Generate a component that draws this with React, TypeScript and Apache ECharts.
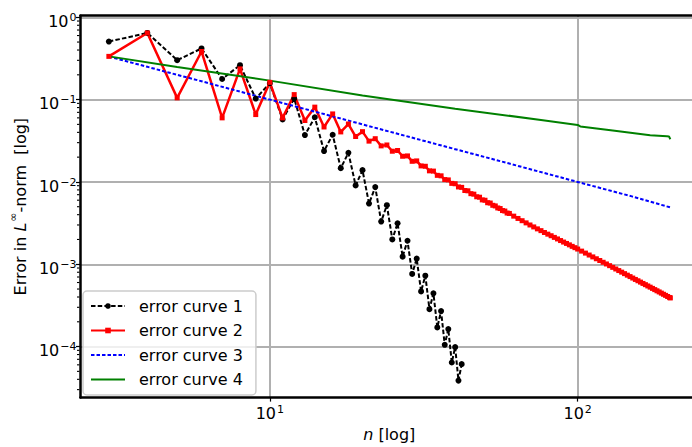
import React, { useEffect, useRef } from 'react';
import * as echarts from 'echarts';

// ---------- data ----------
const seriesNames = ['error curve 1', 'error curve 2', 'error curve 3', 'error curve 4'];

const blackN = [3, 4, 5, 6, 7, 8, 9, 10, 11, 12, 13, 14, 15, 16, 17, 18, 19, 20, 21, 22,
  23, 24, 25, 26, 27, 28, 29, 30, 31, 32, 33, 34, 35, 36, 37, 38, 39, 40, 41, 42];
const blackV = [0.507, 0.645, 0.301, 0.418, 0.178, 0.262, 0.103, 0.158, 0.0575, 0.103,
  0.0371, 0.061, 0.0237, 0.0374, 0.0147, 0.0226, 0.00906, 0.0139, 0.00546, 0.00865,
  0.0033, 0.00522, 0.002, 0.00315, 0.001236, 0.00193, 0.000762, 0.00117, 0.000468, 0.000726,
  0.000285, 0.000443, 0.000171, 0.00027, 0.000105, 0.000163, 6.41e-5, 9.84e-5, 3.86e-5, 6.12e-5];

const redN = [3, 4, 5, 6, 7, 8, 9, 10, 11, 12, 13, 14, 15, 16, 17, 18, 19, 20,
  21, 22, 23, 24, 25, 26, 27, 28, 29, 30, 31, 32, 33, 34, 35, 36, 37, 38, 39, 40,
  41, 42, 43, 44, 45, 46, 47, 48, 49, 50, 51, 52, 53, 54, 55, 56, 57, 58, 59, 60,
  62, 64, 66, 68, 70, 72, 74, 76, 78, 80, 82, 84, 86, 88, 90, 92, 94, 96, 98, 100,
  103, 106, 109, 112, 115, 118, 121, 124, 127, 130, 133, 136, 139, 142, 145, 148, 151,
  154, 157, 160, 163, 166, 169, 172, 175, 178, 181, 184, 187, 190, 193, 196, 199, 200];
const redV = [0.335, 0.645, 0.105, 0.384, 0.06, 0.236, 0.0658, 0.162, 0.06, 0.115,
  0.0557, 0.081, 0.0465, 0.067, 0.0405, 0.0505, 0.0356, 0.0408,
  0.0313, 0.0335, 0.0274, 0.0281, 0.0236, 0.0241, 0.0205, 0.0207, 0.0178, 0.018,
  0.01565, 0.01549, 0.01363, 0.01354, 0.01202, 0.01186, 0.01068, 0.01058, 0.0096, 0.0095,
  0.00869, 0.00859, 0.00787, 0.0078, 0.0072, 0.0071, 0.0066, 0.00652, 0.00605, 0.00599,
  0.00559, 0.00554, 0.0052, 0.00511, 0.00483, 0.00475, 0.00449, 0.00443, 0.00419, 0.00414,
  0.00384, 0.0036, 0.00338, 0.00318, 0.003, 0.00284, 0.00269, 0.00256, 0.00243, 0.00232,
  0.00222, 0.00212, 0.00203, 0.00194, 0.00186, 0.00179, 0.00172, 0.00165, 0.00159, 0.00153,
  0.001444, 0.001366, 0.001294, 0.001228, 0.001166, 0.00111, 0.001057, 0.001008, 0.000961,
  0.000917, 0.000876, 0.000838, 0.000802, 0.000769, 0.000737, 0.000708, 0.00068,
  0.000654, 0.00063, 0.000607, 0.000585, 0.000565, 0.000545, 0.000527, 0.000509,
  0.000492, 0.000476, 0.000461, 0.000446, 0.000432, 0.000419, 0.000406, 0.000394, 0.00039];

const blueN = [3, 4, 5, 6, 8, 10, 15, 20, 30, 40, 60, 80, 100, 150, 200];
const blueV = [0.333, 0.25, 0.2, 0.167, 0.125, 0.1, 0.0667, 0.05, 0.0333, 0.025,
  0.0167, 0.0125, 0.01, 0.00667, 0.0049];

const greenN = [3, 5, 10, 20, 40, 76, 100, 102, 130, 172, 195, 198, 200];
const greenV = [0.335, 0.249, 0.17, 0.1125, 0.0775, 0.0566, 0.0493, 0.0472, 0.0421,
  0.0368, 0.0359, 0.0357, 0.033];

const xMajorTicks = [10, 100];
const yMajorTicks = [1e-4, 1e-3, 1e-2, 1e-1, 1];
const yMinorTicks = [3e-5, 4e-5, 5e-5, 6e-5, 7e-5, 8e-5, 9e-5,
  2e-4, 3e-4, 4e-4, 5e-4, 6e-4, 7e-4, 8e-4, 9e-4,
  2e-3, 3e-3, 4e-3, 5e-3, 6e-3, 7e-3, 8e-3, 9e-3,
  2e-2, 3e-2, 4e-2, 5e-2, 6e-2, 7e-2, 8e-2, 9e-2,
  0.2, 0.3, 0.4, 0.5, 0.6, 0.7, 0.8, 0.9];

const X_MIN = 2.426;
const X_MAX = 246;
const Y_MIN = 2.4e-5;
const Y_MAX = 1.045;

const FONT = 'DejaVu Sans';

const pairs = (xs: number[], ys: number[]) => xs.map((x, i) => [x, ys[i]]);

const expText = (v: number): string => {
  const l = Math.log10(v);
  const e = Math.round(l);
  if (Math.abs(l - e) > 1e-6) return '';
  return String(e).replace('-', '\u2212');
};

export default function App() {
  const ref = useRef<HTMLDivElement>(null);

  useEffect(() => {
    if (!ref.current) return;
    document.body.style.overflow = 'hidden';
    const chart = echarts.init(ref.current, undefined, { renderer: 'svg' });

    const option: any = {
      animation: false,
      textStyle: { fontFamily: FONT },
      grid: { left: 76, top: 15.7, width: 622, height: 388.3, containLabel: false },
      xAxis: [
        {
          type: 'log',
          logBase: 10,
          min: X_MIN,
          max: X_MAX,
          position: 'bottom',
          axisLine: { show: true, onZero: false, lineStyle: { color: '#000', width: 2.5 } },
          axisTick: { show: true, length: 4, customValues: xMajorTicks, lineStyle: { color: '#000', width: 1.2 } },
          axisLabel: {
            show: true,
            customValues: xMajorTicks,
            margin: 6,
            color: '#000',
            formatter: (v: number) => {
              const s = expText(v);
              return s ? `{b|10}{s|${s}}` : '';
            },
            rich: {
              b: { fontSize: 16, fontFamily: FONT, color: '#000', verticalAlign: 'top', padding: [1.5, 0, 0, 0] },
              s: { fontSize: 11, fontFamily: FONT, color: '#000', verticalAlign: 'top', padding: [0, 0, 0, 1] },
            },
          },
          splitLine: { show: true, lineStyle: { color: '#b0b0b0', width: 2 } },
          name: '{it|n}{t| [log]}',
          nameLocation: 'middle',
          nameGap: 26,
          nameTextStyle: {
            rich: {
              it: { fontSize: 16, fontFamily: FONT, fontStyle: 'italic', color: '#000' },
              t: { fontSize: 16, fontFamily: FONT, color: '#000' },
            },
          },
        },
        {
          type: 'log',
          logBase: 10,
          min: X_MIN,
          max: X_MAX,
          position: 'top',
          axisLine: { show: true, onZero: false, lineStyle: { color: '#000', width: 2.5 } },
          axisTick: { show: false },
          axisLabel: { show: false },
          splitLine: { show: false },
        },
      ],
      yAxis: {
        type: 'log',
        logBase: 10,
        min: Y_MIN,
        max: Y_MAX,
        axisLine: { show: true, onZero: false, lineStyle: { color: '#000', width: 2.5 } },
        axisTick: { show: true, length: 4.5, customValues: yMajorTicks, lineStyle: { color: '#000', width: 1.2 } },
        axisLabel: {
          show: true,
          customValues: yMajorTicks,
          margin: 4,
          color: '#000',
          formatter: (v: number) => {
            const s = expText(v);
            return s ? `{b|10}{s|${s}}` : '';
          },
          rich: {
            b: { fontSize: 16, fontFamily: FONT, color: '#000', verticalAlign: 'top', padding: [8.5, 0, 0, 0] },
            s: { fontSize: 11, fontFamily: FONT, color: '#000', verticalAlign: 'top', padding: [7, 0, 0, 1] },
          },
        },
        splitLine: { show: true, lineStyle: { color: '#b0b0b0', width: 2 } },
        name: '{t|Error in }{it|L}{s|\u221e}{t|-norm  [log]}',
        nameLocation: 'middle',
        nameGap: 52,
        nameTextStyle: {
          rich: {
            t: { fontSize: 16, fontFamily: FONT, color: '#000', verticalAlign: 'top', padding: [4, 0, 0, 0] },
            it: { fontSize: 16, fontFamily: FONT, fontStyle: 'italic', color: '#000', verticalAlign: 'top', padding: [4, 0, 0, 0] },
            s: { fontSize: 11, fontFamily: FONT, color: '#000', verticalAlign: 'top', padding: [0, 0, 0, 1] },
          },
        },
      },
      legend: {
        data: [
          { name: seriesNames[0] },
          { name: seriesNames[1] },
          { name: seriesNames[2], itemStyle: { opacity: 0 } },
          { name: seriesNames[3], itemStyle: { opacity: 0 } },
        ],
        orient: 'vertical',
        left: 83,
        top: 291,
        itemWidth: 34,
        itemHeight: 7,
        itemGap: 8.5,
        padding: [7, 13, 7.5, 7],
        backgroundColor: 'rgba(255,255,255,0.8)',
        borderColor: '#cccccc',
        borderWidth: 1.5,
        borderRadius: 4,
        selectedMode: false,
        textStyle: { fontFamily: FONT, fontSize: 16, color: '#000', padding: [0, 0, 0, 9] },
      },
      series: [
        {
          name: seriesNames[0],
          type: 'line',
          data: pairs(blackN, blackV),
          symbol: 'circle',
          symbolSize: 6,
          showSymbol: true,
          showAllSymbol: true,
          lineStyle: { color: '#000000', width: 2, type: [4.5, 2.2] },
          itemStyle: { color: '#000000' },
          emphasis: { disabled: true },
          z: 2,
        },
        {
          name: seriesNames[1],
          type: 'line',
          data: pairs(redN, redV),
          symbol: 'rect',
          symbolSize: 5,
          showSymbol: true,
          showAllSymbol: true,
          lineStyle: { color: '#ff0000', width: 2.5 },
          itemStyle: { color: '#ff0000' },
          emphasis: { disabled: true },
          z: 2,
        },
        {
          name: seriesNames[2],
          type: 'line',
          data: pairs(blueN, blueV),
          symbol: 'none',
          lineStyle: { color: '#0000ff', width: 2, type: [3.5, 2] },
          itemStyle: { color: '#0000ff' },
          emphasis: { disabled: true },
          z: 2,
        },
        {
          name: seriesNames[3],
          type: 'line',
          data: pairs(greenN, greenV),
          symbol: 'none',
          lineStyle: { color: '#008000', width: 2 },
          itemStyle: { color: '#008000' },
          emphasis: { disabled: true },
          z: 2,
        },
        {
          name: 'minor-ticks',
          type: 'custom',
          silent: true,
          clip: false,
          data: yMinorTicks.map((v) => [X_MIN, v]),
          renderItem: (params: any, api: any) => {
            const p = api.coord([api.value(0), api.value(1)]);
            return {
              type: 'line',
              shape: { x1: p[0] - 3.5, y1: p[1], x2: p[0] - 1, y2: p[1] },
              style: { stroke: '#000', lineWidth: 1.1 },
            };
          },
          z: 5,
        },
      ],
    };

    chart.setOption(option);
    return () => {
      chart.dispose();
    };
  }, []);

  return (
    <div
      ref={ref}
      style={{ position: 'fixed', left: 0, top: 0, width: 712, height: 447, background: '#fff' }}
    />
  );
}
